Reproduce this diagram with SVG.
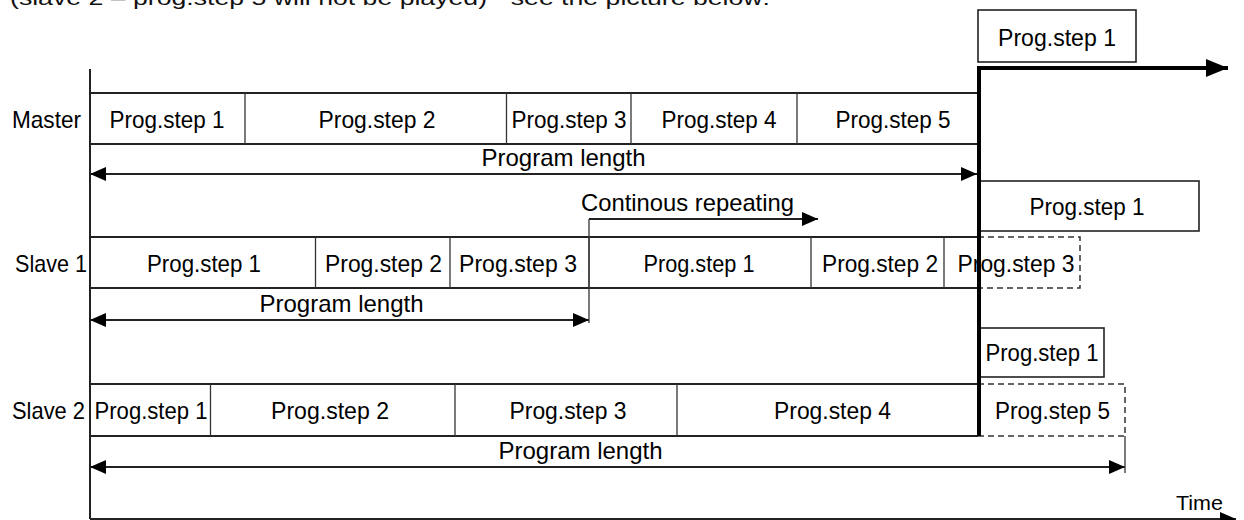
<svg xmlns="http://www.w3.org/2000/svg" width="1244" height="520" viewBox="0 0 1244 520">
<defs>
<style>
.t{font-family:"Liberation Sans",Arial,sans-serif;font-size:24px;fill:#000}
.c{text-anchor:middle}
.ln{stroke:#222;stroke-width:2;fill:none}
.dv{stroke:#333;stroke-width:1.3;fill:none}
.bx{stroke:#222;stroke-width:1.6;fill:#fff}
.ds{stroke:#333;stroke-width:1.5;fill:none;stroke-dasharray:6 4}
.ar{stroke:#222;stroke-width:1.8;fill:none}
</style>
<marker id="ah" viewBox="0 0 16 14" refX="16" refY="7" markerWidth="16" markerHeight="14" markerUnits="userSpaceOnUse" orient="auto-start-reverse">
<path d="M0,0 L16,7 L0,14 z" fill="#000"/>
</marker>
<marker id="ahb" viewBox="0 0 22 18" refX="22" refY="9" markerWidth="22" markerHeight="18" markerUnits="userSpaceOnUse" orient="auto">
<path d="M0,0 L22,9 L0,18 z" fill="#000"/>
</marker>
</defs>
<rect width="1244" height="520" fill="#fff"/>

<text x="10" y="5" style="font-family:'Liberation Sans',Arial,sans-serif;font-size:20px;fill:#111" textLength="760" lengthAdjust="spacingAndGlyphs">(slave 2 – prog.step 5 will not be played) - see the picture below:</text>

<g id="axes">
<line class="ln" x1="90" y1="69" x2="90" y2="519"/>
<line class="ln" x1="90" y1="519" x2="1236" y2="519" marker-end="url(#ah)"/>
<text class="t" x="1176" y="510" style="font-size:21px" textLength="47" lengthAdjust="spacingAndGlyphs">Time</text>
</g>

<g id="master">
<line class="ln" x1="90" y1="93" x2="979" y2="93"/>
<line class="ln" x1="90" y1="144" x2="979" y2="144"/>
<line class="dv" x1="245" y1="93" x2="245" y2="144"/>
<line class="dv" x1="506.5" y1="93" x2="506.5" y2="144"/>
<line class="dv" x1="631" y1="93" x2="631" y2="144"/>
<line class="dv" x1="797" y1="93" x2="797" y2="144"/>
<text class="t" x="12" y="127.5" textLength="69" lengthAdjust="spacingAndGlyphs">Master</text>
<text class="t c" x="167" y="127.5" textLength="115" lengthAdjust="spacingAndGlyphs">Prog.step 1</text>
<text class="t c" x="377" y="127.5" textLength="117" lengthAdjust="spacingAndGlyphs">Prog.step 2</text>
<text class="t c" x="569" y="127.5" textLength="115" lengthAdjust="spacingAndGlyphs">Prog.step 3</text>
<text class="t c" x="719" y="127.5" textLength="115" lengthAdjust="spacingAndGlyphs">Prog.step 4</text>
<text class="t c" x="893" y="127.5" textLength="115" lengthAdjust="spacingAndGlyphs">Prog.step 5</text>
<text class="t c" x="563.5" y="166">Program length</text>
</g>

<g id="master-next">
<rect class="bx" x="978" y="10" width="158" height="52"/>
<text class="t c" x="1057" y="46" textLength="118" lengthAdjust="spacingAndGlyphs">Prog.step 1</text>
</g>

<g id="slave1">
<line class="ln" x1="90" y1="237" x2="978" y2="237"/>
<line class="ln" x1="90" y1="288" x2="978" y2="288"/>
<line class="dv" x1="315.5" y1="237" x2="315.5" y2="288"/>
<line class="dv" x1="450" y1="237" x2="450" y2="288"/>
<line class="dv" x1="589" y1="237" x2="589" y2="288"/>
<line class="dv" x1="811" y1="237" x2="811" y2="288"/>
<line class="dv" x1="944" y1="237" x2="944" y2="288"/>
<path class="ds" d="M978,237 H1080 V288 H978"/>
<text class="t" x="15" y="272" textLength="72" lengthAdjust="spacingAndGlyphs">Slave 1</text>
<text class="t c" x="204" y="272" textLength="114" lengthAdjust="spacingAndGlyphs">Prog.step 1</text>
<text class="t c" x="383.5" y="272" textLength="117" lengthAdjust="spacingAndGlyphs">Prog.step 2</text>
<text class="t c" x="518" y="272" textLength="118" lengthAdjust="spacingAndGlyphs">Prog.step 3</text>
<text class="t c" x="699" y="272" textLength="111" lengthAdjust="spacingAndGlyphs">Prog.step 1</text>
<text class="t c" x="880" y="272" textLength="116" lengthAdjust="spacingAndGlyphs">Prog.step 2</text>
<text class="t c" x="1016" y="272" textLength="117" lengthAdjust="spacingAndGlyphs">Prog.step 3</text>
<text class="t c" x="341.5" y="312">Program length</text>
<text class="t" x="581" y="211" textLength="213" lengthAdjust="spacingAndGlyphs">Continous repeating</text>
</g>

<g id="slave1-next">
<rect class="bx" x="978" y="181" width="221" height="50"/>
<text class="t c" x="1087" y="215" textLength="115" lengthAdjust="spacingAndGlyphs">Prog.step 1</text>
</g>

<g id="slave2">
<line class="ln" x1="90" y1="384" x2="978" y2="384"/>
<line class="ln" x1="90" y1="436" x2="978" y2="436"/>
<line class="dv" x1="210.5" y1="384" x2="210.5" y2="436"/>
<line class="dv" x1="455" y1="384" x2="455" y2="436"/>
<line class="dv" x1="677" y1="384" x2="677" y2="436"/>
<path class="ds" d="M978,384 H1125 V436 H978"/>
<text class="t" x="12" y="419" textLength="73" lengthAdjust="spacingAndGlyphs">Slave 2</text>
<text class="t c" x="151" y="419" textLength="113" lengthAdjust="spacingAndGlyphs">Prog.step 1</text>
<text class="t c" x="330" y="419" textLength="118" lengthAdjust="spacingAndGlyphs">Prog.step 2</text>
<text class="t c" x="568" y="419" textLength="117" lengthAdjust="spacingAndGlyphs">Prog.step 3</text>
<text class="t c" x="832.5" y="419" textLength="117" lengthAdjust="spacingAndGlyphs">Prog.step 4</text>
<text class="t c" x="1052.5" y="419" textLength="115" lengthAdjust="spacingAndGlyphs">Prog.step 5</text>
<text class="t c" x="580.5" y="459">Program length</text>
</g>

<g id="slave2-next">
<rect class="bx" x="978" y="328" width="126" height="49"/>
<text class="t c" x="1042" y="361" textLength="113" lengthAdjust="spacingAndGlyphs">Prog.step 1</text>
</g>

<g id="connectors">
<line class="ar" x1="90" y1="174" x2="977" y2="174" marker-start="url(#ah)" marker-end="url(#ah)"/>
<line class="ar" x1="90" y1="320" x2="589" y2="320" marker-start="url(#ah)" marker-end="url(#ah)"/>
<line class="ar" x1="90" y1="467" x2="1125" y2="467" marker-start="url(#ah)" marker-end="url(#ah)"/>
<line class="dv" x1="589" y1="219" x2="589" y2="323"/>
<line class="ar" x1="589" y1="219" x2="818" y2="219" marker-end="url(#ah)"/>
<line class="dv" x1="1125" y1="436" x2="1125" y2="473"/>
<path d="M979,436 V68 H1228" fill="none" stroke="#000" stroke-width="4" marker-end="url(#ahb)"/>
</g>
</svg>
